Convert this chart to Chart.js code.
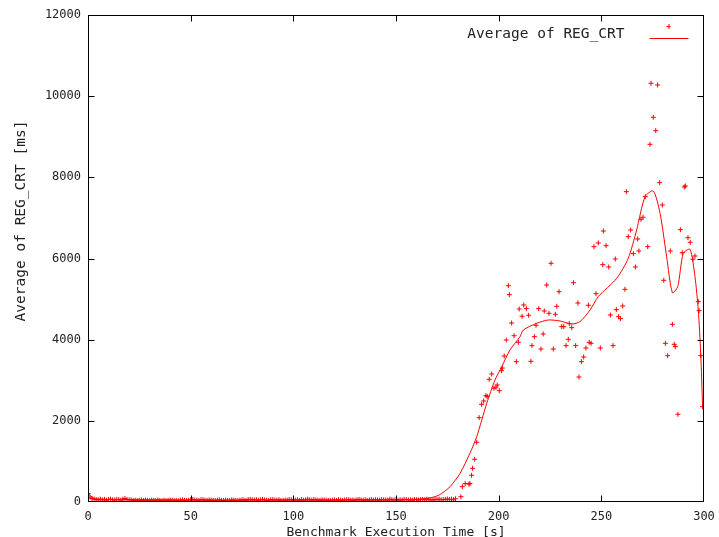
<!DOCTYPE html>
<html>
<head>
<meta charset="utf-8">
<script src="https://cdn.jsdelivr.net/npm/chart.js@4/dist/chart.umd.min.js"></script>
<style>
  html, body { margin: 0; padding: 0; background: #fff; }
  #wrap { width: 719px; height: 537px; }
</style>
</head>
<body>
<div id="wrap"><canvas id="chart" width="719" height="537"></canvas></div>
<script>
// idle phase: one sample per second starting at t = 0
const idleValues = [
  210,120,85,70,60,55,70,50,65,45,60,70,55,50,65,60,45,70,85,60,
  55,50,40,45,35,40,50,35,45,40,30,45,40,35,50,40,30,45,35,40,
  50,45,35,40,30,45,50,40,35,45,55,60,50,45,40,55,60,45,40,50,
  45,40,35,45,50,40,35,45,40,35,50,45,40,35,45,55,50,40,60,65,
  55,50,60,45,55,65,50,45,40,55,60,50,45,55,40,35,50,45,60,55,
  50,45,55,40,60,45,50,70,55,45,60,50,45,40,55,50,45,40,35,45,
  50,40,55,45,40,50,60,55,45,50,40,55,65,50,45,55,40,50,60,45,
  55,50,45,60,55,50,45,70,55,50,60,45,55,50,65,60,50,55,45,60,
  55,50,60,65,55,70,60,55,50,65,60,70,55,60,65,75,60,70,55,80
];

// loaded phase samples
const loadTimes = [
  181.6,182.3,183.7,185.5,186.0,186.8,187.3,188.3,189.3,190.5,
  191.7,192.7,193.8,194.4,195.4,196.6,197.7,198.7,199.3,200.3,
  201.4,201.8,202.7,203.7,204.7,205.2,206.3,207.5,208.6,209.6,
  210.0,211.4,212.2,213.5,214.6,215.7,216.2,217.4,218.2,219.5,
  220.6,221.7,222.2,223.4,224.5,225.5,226.6,227.6,228.3,229.4,
  230.7,231.7,232.8,233.9,234.4,235.6,236.4,237.5,238.6,239.1,
  240.3,241.4,242.5,243.7,244.1,245.0,246.4,247.4,248.5,249.5,
  250.7,251.0,252.3,253.6,254.4,255.7,256.8,257.3,258.4,259.3,
  260.4,261.5,262.2,263.1,264.3,265.6,266.6,267.7,268.3,269.3,
  270.3,271.4,272.6,273.7,274.2,275.3,276.5,277.4,278.4,279.7,
  280.4,281.2,282.3,283.6,284.6,285.5,286.0,287.3,288.5,289.4,
  290.4,290.9,292.2,293.3,294.6,295.6,297.2,297.6,298.4,299.3
];
const loadValues = [
  131,378,456,440,456,658,830,1052,1471,2078,
  2407,2489,2620,2600,3023,3154,2802,2830,2883,2743,
  3236,3300,3598,3992,5330,5109,4411,4098,3458,3935,
  4756,4576,4855,4765,4601,3466,3853,4074,4354,4765,
  3770,4140,4707,5347,4650,5882,3770,4625,4823,5183,
  4321,4321,3853,4008,4395,4296,5404,3853,4904,3080,
  3458,3573,3795,4847,3935,3910,6292,5133,6383,3795,
  5848,6678,6316,5791,4608,3853,5988,4740,4567,4518,
  4830,5241,7647,6538,6703,6119,5791,6481,6185,6966,
  7016,7524,6292,8814,10317,9479,9150,10276,7869,7319,
  5463,3910,3606,6185,4378,3886,3828,2161,6711,6144,
  7762,7787,6513,6399,5981,6062,4937,4715,3606,2349
];

// smoothed curve
const smoothTimes = [
  0,2,5,20,50,100,150,160,166,171,
  176.3,181.2,186,189.3,194.2,198.2,201.5,205.5,210.4,212,
  218.5,224.2,229.9,235.6,239.6,244.5,248.5,257.5,263.1,267.2,
  271.3,275.3,278.6,281.8,284.6,287.2,289.9,293.2,295.6,297.2,
  298.4,299.3
];
const smoothValues = [
  220,110,70,60,50,50,55,70,95,172,
  377,707,1200,1609,2432,3006,3334,3746,4074,4238,
  4403,4485,4460,4386,4444,4731,5060,5512,6004,6703,
  7524,7664,7114,6045,5158,5306,6128,6226,5553,4731,
  3665,2349
];

const xTicks = [0, 50, 100, 150, 200, 250, 300];
const yTicks = [0, 2000, 4000, 6000, 8000, 10000, 12000];

const seriesName = 'Average of REG_CRT';
const yTitle = 'Average of REG_CRT [ms]';
const xTitle = 'Benchmark Execution Time [s]';

const RED = '#ff0000';
const MONO = "'DejaVu Sans Mono', 'Liberation Mono', monospace";

const samples = idleValues.map((v, i) => ({ x: i, y: v }))
  .concat(loadTimes.map((t, i) => ({ x: t, y: loadValues[i] })));
const curve = smoothTimes.map((t, i) => ({ x: t, y: smoothValues[i] }));

// gnuplot style frame: border with inward ticks on all four sides, key, ylabel
const framePlugin = {
  id: 'frame',
  afterDraw(chart) {
    const { ctx, chartArea: a, scales } = chart;
    const L = Math.round(a.left) + 0.5, R = Math.round(a.right) - 0.5;
    const T = Math.round(a.top) + 0.5, B = Math.round(a.bottom) - 0.5;
    const len = 6;
    ctx.save();
    ctx.strokeStyle = '#000';
    ctx.lineWidth = 1;
    ctx.strokeRect(L, T, R - L, B - T);
    ctx.beginPath();
    xTicks.forEach(v => {
      const px = Math.round(scales.x.getPixelForValue(v)) + 0.5;
      if (v === xTicks[0] || v === xTicks[xTicks.length - 1]) return;
      ctx.moveTo(px, B); ctx.lineTo(px, B - len);
      ctx.moveTo(px, T); ctx.lineTo(px, T + len);
    });
    yTicks.forEach(v => {
      const py = Math.round(scales.y.getPixelForValue(v)) + 0.5;
      if (v === yTicks[0] || v === yTicks[yTicks.length - 1]) return;
      ctx.moveTo(L, py); ctx.lineTo(L + len, py);
      ctx.moveTo(R, py); ctx.lineTo(R - len, py);
    });
    ctx.stroke();

    // key
    ctx.font = '14.5px ' + MONO;
    ctx.fillStyle = '#222';
    ctx.textAlign = 'right';
    ctx.textBaseline = 'middle';
    ctx.fillText(seriesName, R - 79, 34);
    ctx.strokeStyle = RED;
    ctx.beginPath();
    ctx.moveTo(R - 54, 38.5); ctx.lineTo(R - 15, 38.5);
    ctx.moveTo(R - 37, 26.5); ctx.lineTo(R - 33, 26.5);
    ctx.moveTo(R - 34.5, 24); ctx.lineTo(R - 34.5, 29);
    ctx.stroke();

    // y label
    ctx.fillStyle = '#222';
    ctx.translate(21, 221);
    ctx.rotate(-Math.PI / 2);
    ctx.textAlign = 'center';
    ctx.fillText(yTitle, 0, 0);
    ctx.restore();
  }
};

new Chart(document.getElementById('chart'), {
  type: 'scatter',
  data: {
    datasets: [
      {
        label: seriesName,
        data: samples,
        showLine: false,
        pointStyle: 'cross',
        pointRadius: 2.5,
        borderColor: RED,
        backgroundColor: RED,
        borderWidth: 1,
        order: 2,
      },
      {
        label: seriesName + ' (smooth)',
        data: curve,
        showLine: true,
        pointRadius: 0,
        borderColor: RED,
        borderWidth: 1,
        tension: 0.25,
        fill: false,
        order: 1,
      },
    ],
  },
  options: {
    responsive: false,
    animation: false,
    layout: { padding: { top: 15, right: 15, left: 0, bottom: 0 } },
    plugins: {
      legend: { display: false },
      tooltip: { enabled: false },
    },
    scales: {
      x: {
        type: 'linear',
        min: 0,
        max: 300,
        afterFit: (s) => { s.height = 35; s.paddingLeft = 0; s.paddingRight = 0; },
        afterBuildTicks: (s) => { s.ticks = xTicks.map(v => ({ value: v })); },
        grid: { display: false, drawTicks: false },
        border: { display: false },
        ticks: {
          padding: 8,
          color: '#222',
          font: { family: MONO, size: 12 },
          maxRotation: 0,
          callback: (v) => String(v),
        },
        title: {
          display: true,
          text: xTitle,
          color: '#222',
          font: { family: MONO, size: 13 },
          padding: { top: 0, bottom: -3 },
        },
      },
      y: {
        type: 'linear',
        min: 0,
        max: 12000,
        afterFit: (s) => { s.width = 88; s.paddingTop = 0; s.paddingBottom = 0; },
        afterBuildTicks: (s) => { s.ticks = yTicks.map(v => ({ value: v })); },
        grid: { display: false, drawTicks: false },
        border: { display: false },
        ticks: {
          padding: 7,
          color: '#222',
          font: { family: MONO, size: 12 },
          callback: (v) => String(v),
        },
        title: { display: false },
      },
    },
  },
  plugins: [framePlugin],
});
</script>
</body>
</html>
